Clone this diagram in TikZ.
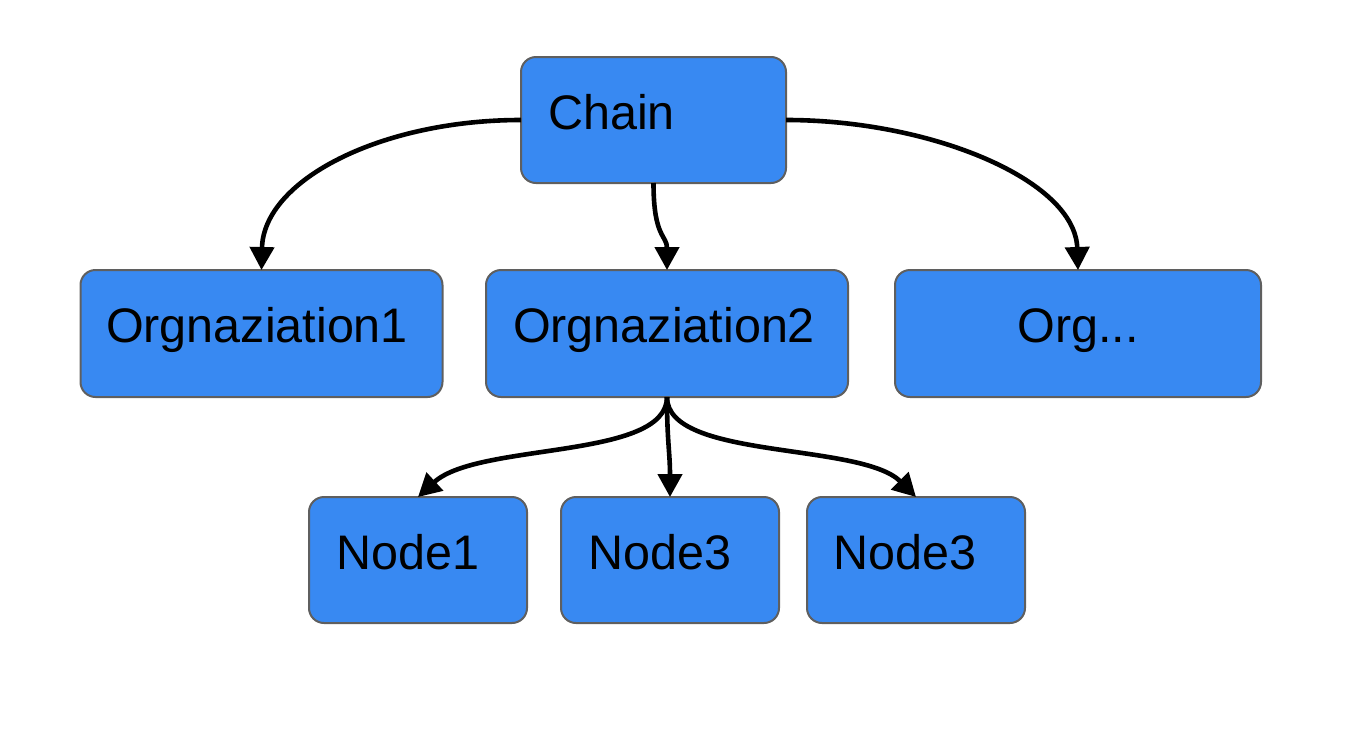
\documentclass[tikz,border=0pt]{standalone}
\usepackage{fontspec}
\setmainfont{Liberation Sans}
\usetikzlibrary{arrows.meta}
\definecolor{boxfill}{RGB}{56,137,242}
\definecolor{boxline}{RGB}{95,95,95}
\tikzset{
  box/.style={draw=boxline, fill=boxfill, line width=2pt, rounded corners=15pt,
    minimum height=126pt, inner sep=0pt, outer sep=0pt},
  lbl/.style={inner sep=0pt, font=\fontsize{48.5}{56}\selectfont, text=black},
  arr/.style={line width=4.6pt, -{Triangle[length=23pt,width=24pt]}},
}
\begin{document}
\begin{tikzpicture}[x=1pt,y=-1pt]
\useasboundingbox (0,0) rectangle (1366,750);
% boxes
\node[box, minimum width=265pt] (chain) at (653.5,120) {};
\node[box, minimum width=362pt, minimum height=127pt] (org1) at (261.5,333.5) {};
\node[box, minimum width=362pt, minimum height=127pt] (org2) at (667,333.5) {};
\node[box, minimum width=366pt, minimum height=127pt] (org3) at (1078,333.5) {};
\node[box, minimum width=218pt] (n1) at (418,560) {};
\node[box, minimum width=218pt] (n2) at (670,560) {};
\node[box, minimum width=218pt] (n3) at (916,560) {};
% labels
\node[lbl, anchor=base west] (tchain) at (548,129) {Chain};
\node[lbl, anchor=base] (torg1) at (257,342) {Orgnaziation1};
\node[lbl, anchor=base] (torg2) at (664,342) {Orgnaziation2};
\node[lbl, anchor=base] (torg3) at (1078,342) {Org...};
\node[lbl, anchor=base west] (tn1) at (336,569) {Node1};
\node[lbl, anchor=base west] (tn2) at (588,569) {Node3};
\node[lbl, anchor=base west] (tn3) at (833,569) {Node3};
% connectors
\draw[arr] (chain.west) .. controls +(-140,0) and +(2,-90) .. (org1.north);
\draw[arr] (chain.east) .. controls +(145,0) and +(-3,-90) .. (org3.north);
\draw[arr] (chain.south) .. controls +(0,55) and +(0,-35) .. (org2.north);
\draw[arr] (org2.south) .. controls +(0,63) and +(60,-55) .. (n1.north);
\draw[arr] (org2.south) .. controls +(0,45) and +(0,-45) .. (n2.north);
\draw[arr] (org2.south) .. controls +(0,63) and +(-55,-55) .. (n3.north);
\end{tikzpicture}
\end{document}
